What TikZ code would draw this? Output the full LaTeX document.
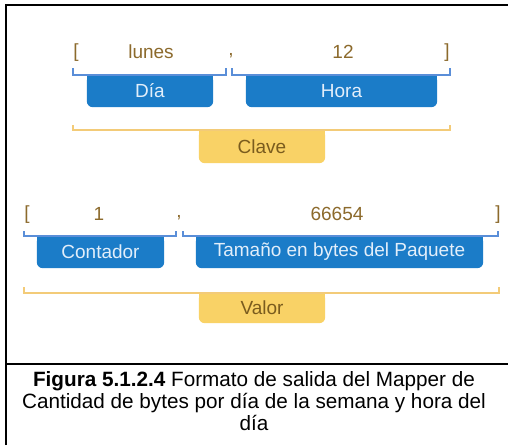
\documentclass[tikz,border=0pt]{standalone}
\usepackage{fontspec}
\setmainfont{Liberation Sans}
\definecolor{boxblue}{HTML}{1B7CC8}
\definecolor{brblue}{HTML}{5A8ED8}
\definecolor{gold}{HTML}{8C6A2C}
\definecolor{boxyel}{HTML}{F9D266}
\definecolor{bryel}{HTML}{F3CB78}
\definecolor{yeltext}{HTML}{7A5C1E}
\definecolor{lighttext}{HTML}{E2EEFA}
\pgfdeclarelayer{background}
\pgfsetlayers{background,main}
\begin{document}
\begin{tikzpicture}[x=1pt,y=-1pt,
  val/.style={font=\fontsize{19}{22}\selectfont, text=gold, inner sep=0pt},
  bluebox/.style={inner sep=0pt, minimum height=32pt, text=lighttext, font=\fontsize{19}{22}\selectfont},
  yelbox/.style={inner sep=0pt, text=yeltext, font=\fontsize{19}{22}\selectfont},
  bbr/.style={draw=brblue, line width=1.1pt},
  ybr/.style={draw=bryel, line width=1.1pt}]
\useasboundingbox (0,0) rectangle (508,445);
% row 1
\node[val] (lb1) at (76,53) {[};
\node[val] (lunes) at (151,52) {lunes};
\node[val] (c1) at (231,56) {,};
\node[val] (h12) at (343,52) {12};
\node[val] (rb1) at (447,53) {]};
\node[bluebox, minimum width=126pt] (dia) at (150,91) {Día};
\node[bluebox, minimum width=191pt] (hora) at (341.5,91) {Hora};
\node[yelbox, minimum width=126pt, minimum height=33pt] (clave) at (262,146.5) {Clave};
% row 2
\node[val] (lb2) at (27,215) {[};
\node[val] (uno) at (99,214) {1};
\node[val] (c2) at (179,218) {,};
\node[val] (bytes) at (337,214) {66654};
\node[val] (rb2) at (498,215) {]};
\node[bluebox, minimum width=127pt] (cont) at (100.5,252) {Contador};
\node[bluebox, minimum width=287pt] (tam) at (339.5,252) {Tamaño en bytes del Paquete};
\node[yelbox, minimum width=126pt, minimum height=30pt] (valor) at (262,308) {Valor};
% caption
\node[align=center, font=\fontsize{20.7}{22}\selectfont, inner sep=0pt] (cap) at (254,401)
  {\textbf{Figura 5.1.2.4} Formato de salida del Mapper de\\Cantidad de bytes por día de la semana y hora del\\día};
\begin{pgfonlayer}{background}
\fill[white] (0,0) rectangle (508,445);
\foreach \n in {dia,hora,cont,tam}{
  \fill[boxblue, rounded corners=6pt] (\n.north west) rectangle (\n.south east);
  \fill[boxblue] (\n.north west) rectangle ([yshift=-8pt]\n.north east);
}
\foreach \n in {clave,valor}{
  \fill[boxyel, rounded corners=6pt] (\n.north west) rectangle (\n.south east);
  \fill[boxyel] (\n.north west) rectangle ([yshift=-8pt]\n.north east);
}
\end{pgfonlayer}
% brackets
\draw[bbr] (73,68) -- (73,75) -- (226,75) -- (226,68);
\draw[bbr] (232,68) -- (232,75) -- (450,75) -- (450,68);
\draw[ybr] (73,125) -- (73,130) -- (450,130) -- (450,125);
\draw[bbr] (24,231) -- (24,236) -- (176,236) -- (176,231);
\draw[bbr] (183,231) -- (183,236) -- (498,236) -- (498,231);
\draw[ybr] (24,287) -- (24,293) -- (499,293) -- (499,287);
% frame
\draw[line width=2pt] (6,445) -- (6,5) -- (509,5);
\draw[line width=2pt] (6,364) -- (509,364);
\end{tikzpicture}
\end{document}
